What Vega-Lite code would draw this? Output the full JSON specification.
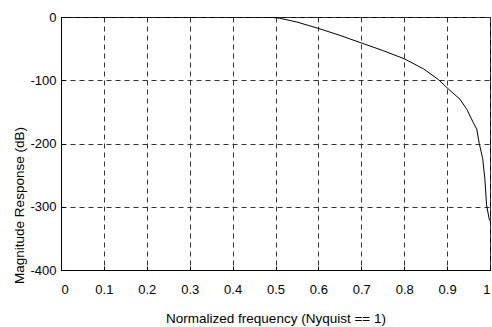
{
  "$schema": "https://vega.github.io/schema/vega-lite/v6.json",
  "autosize": "none",
  "width": 429,
  "height": 253,
  "padding": {"left": 61, "top": 17, "right": 2, "bottom": 57},
  "background": "white",
  "config": {
    "view": {"stroke": "black", "strokeWidth": 1},
    "font": "Liberation Sans"
  },
  "data": {
    "values": [
      {"f": 0.0, "db": 0},
      {"f": 0.1, "db": 0},
      {"f": 0.2, "db": 0},
      {"f": 0.3, "db": 0},
      {"f": 0.4, "db": 0},
      {"f": 0.47, "db": 0},
      {"f": 0.49, "db": -0.5},
      {"f": 0.51, "db": -2},
      {"f": 0.55, "db": -8},
      {"f": 0.6, "db": -18},
      {"f": 0.65, "db": -29},
      {"f": 0.7, "db": -41},
      {"f": 0.75, "db": -53},
      {"f": 0.8, "db": -66},
      {"f": 0.845, "db": -82},
      {"f": 0.88, "db": -99},
      {"f": 0.9, "db": -112},
      {"f": 0.93, "db": -130},
      {"f": 0.946, "db": -146},
      {"f": 0.961, "db": -167},
      {"f": 0.969, "db": -177},
      {"f": 0.975, "db": -200},
      {"f": 0.983, "db": -224},
      {"f": 0.988, "db": -256},
      {"f": 0.992, "db": -297},
      {"f": 0.998, "db": -319},
      {"f": 1.0, "db": -322}
    ]
  },
  "mark": {"type": "line", "color": "black", "strokeWidth": 1, "clip": true},
  "encoding": {
    "x": {
      "field": "f",
      "type": "quantitative",
      "scale": {"domain": [0, 1], "nice": false, "zero": false},
      "axis": {
        "title": "Normalized frequency (Nyquist == 1)",
        "values": [0, 0.1, 0.2, 0.3, 0.4, 0.5, 0.6, 0.7, 0.8, 0.9, 1],
        "labelExpr": "datum.value == 0 ? '0' : datum.value == 1 ? '1' : format(datum.value, '.1f')",
        "domainColor": "black",
        "tickColor": "black",
        "tickSize": -4,
        "labelPadding": 17,
        "labelFontSize": 13,
        "labelColor": "black",
        "titleFontSize": 13.5,
        "titleFontWeight": "normal",
        "titleColor": "black",
        "titleBaseline": "top",
        "titleY": 41,
        "grid": true,
        "gridColor": "#333333",
        "gridDash": [5, 4],
        "gridWidth": 1,
        "gridOpacity": 1
      }
    },
    "y": {
      "field": "db",
      "type": "quantitative",
      "scale": {"domain": [-400, 0], "nice": false, "zero": false},
      "axis": {
        "title": "Magnitude Response (dB)",
        "values": [-400, -300, -200, -100, 0],
        "labelExpr": "datum.value == 0 ? '0' : '-' + toString(abs(datum.value))",
        "domainColor": "black",
        "tickColor": "black",
        "tickSize": -4,
        "labelPadding": 9,
        "labelFontSize": 13,
        "labelColor": "black",
        "titleFontSize": 13.5,
        "titleFontWeight": "normal",
        "titleColor": "black",
        "titleY": 188,
        "titleX": -35,
        "grid": true,
        "gridColor": "#333333",
        "gridDash": [5, 4],
        "gridWidth": 1,
        "gridOpacity": 1
      }
    }
  }
}
